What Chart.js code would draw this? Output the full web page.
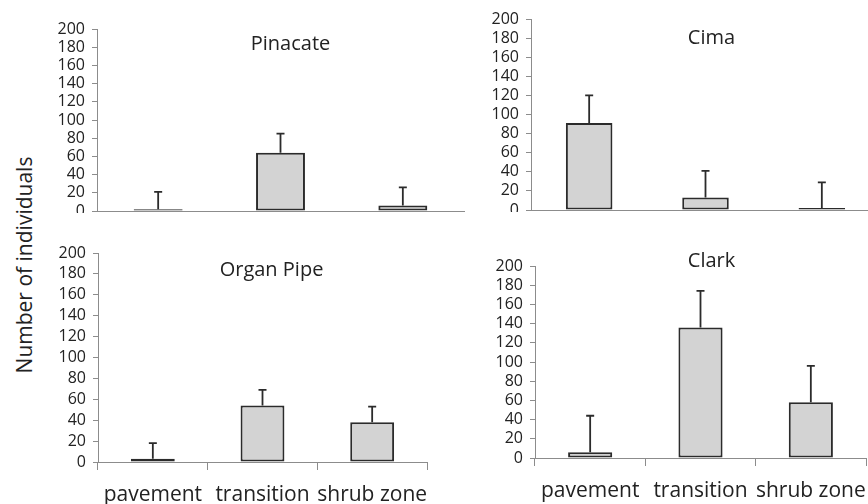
<!DOCTYPE html>
<html>
<head>
<meta charset="utf-8">
<script src="https://cdn.jsdelivr.net/npm/chart.js@4"></script>
<style>
  html, body { margin: 0; padding: 0; background: #fff; overflow: hidden; }
  #wrap { position: relative; width: 868px; height: 504px; overflow: hidden; }
  #wrap canvas { position: absolute; }
  #ytitle {
    position: absolute; left: 24px; top: 265px;
    transform: translate(-50%, -50%) rotate(-90deg);
    font: 21px "Open Sans"; color: #222; white-space: nowrap;
  }
</style>
</head>
<body>
<div id="wrap">
  <canvas id="c-pinacate"></canvas>
  <canvas id="c-cima"></canvas>
  <canvas id="c-organ"></canvas>
  <canvas id="c-clark"></canvas>
  <div id="ytitle">Number of individuals</div>
</div>
<script>
// Data (mean, upper error)
const categories = ['pavement', 'transition', 'shrub zone'];
const yMin = 0;
const yMax = 200;
const yStep = 20;

const pinacateMean = [2, 64, 6];
const pinacateErr = [19, 21, 20];

const cimaMean = [91, 13, 2];
const cimaErr = [29, 28, 27];

const organPipeMean = [3, 54, 38];
const organPipeErr = [15, 15, 15];

const clarkMean = [6, 136, 58];
const clarkErr = [38, 38, 38];

// Layout of the four panels (plot box in page pixels)
const Y_W = 52;      // room for y tick labels
const PAD_TOP = 14;
const PAD_R = 2;

const panels = [
  { id: 'c-pinacate', title: 'Pinacate', mean: pinacateMean, err: pinacateErr, labels: false,
    box: { left: 97, right: 464, top: 29, bottom: 211 }, titleAt: [10, 15] },
  { id: 'c-cima', title: 'Cima', mean: cimaMean, err: cimaErr, labels: false,
    box: { left: 531, right: 880, top: 19, bottom: 210 }, titleAt: [6, 19] },
  { id: 'c-organ', title: 'Organ Pipe', mean: organPipeMean, err: organPipeErr, labels: true,
    box: { left: 98, right: 427, top: 253, bottom: 462 }, titleAt: [9, 17] },
  { id: 'c-clark', title: 'Clark', mean: clarkMean, err: clarkErr, labels: true,
    box: { left: 535, right: 866, top: 266, bottom: 458 }, titleAt: [11, -5] }
];

const AXIS_GRAY = '#8c8c8c';
const INK = '#222';
const BAR_EDGE = '#2b2b2b';

const errorBarsPlugin = {
  id: 'errorBars',
  afterDatasetsDraw(chart, args, opts) {
    const { ctx } = chart;
    const y = chart.scales.y;
    const meta = chart.getDatasetMeta(0);
    const values = chart.data.datasets[0].data;
    ctx.save();
    ctx.strokeStyle = opts.color;
    ctx.lineWidth = opts.width;
    meta.data.forEach((bar, i) => {
      const base = y.getPixelForValue(values[i]);
      const top = y.getPixelForValue(values[i] + opts.errors[i]);
      ctx.beginPath();
      ctx.moveTo(bar.x, base);
      ctx.lineTo(bar.x, top);
      ctx.moveTo(bar.x - opts.cap, top);
      ctx.lineTo(bar.x + opts.cap, top);
      ctx.stroke();
    });
    ctx.restore();
  }
};

const panelTitlePlugin = {
  id: 'panelTitle',
  afterDraw(chart, args, opts) {
    const { ctx, chartArea } = chart;
    ctx.save();
    ctx.font = opts.font;
    ctx.fillStyle = opts.color;
    ctx.textAlign = 'center';
    ctx.textBaseline = 'middle';
    ctx.fillText(opts.text, (chartArea.left + chartArea.right) / 2 + opts.dx, chartArea.top + opts.dy);
    ctx.restore();
  }
};

function buildPanel(p) {
  const canvas = document.getElementById(p.id);
  const xH = p.labels ? 48 : 2;
  const w = Y_W + (p.box.right - p.box.left) + PAD_R;
  const h = PAD_TOP + (p.box.bottom - p.box.top) + xH;
  canvas.width = w;
  canvas.height = h;
  canvas.style.left = (p.box.left - Y_W) + 'px';
  canvas.style.top = (p.box.top - PAD_TOP) + 'px';
  canvas.style.width = w + 'px';
  canvas.style.height = h + 'px';

  return new Chart(canvas.getContext('2d'), {
    type: 'bar',
    data: {
      labels: categories,
      datasets: [{
        data: p.mean,
        backgroundColor: '#d3d3d3',
        borderColor: BAR_EDGE,
        borderWidth: 2,
        borderSkipped: false,
        barPercentage: 0.4,
        categoryPercentage: 1
      }]
    },
    options: {
      responsive: false,
      animation: false,
      events: [],
      layout: { padding: { top: PAD_TOP, right: PAD_R, left: 0, bottom: 0 } },
      plugins: {
        legend: { display: false },
        tooltip: { enabled: false },
        errorBars: { errors: p.err, color: BAR_EDGE, width: 1.8, cap: 4 },
        panelTitle: { text: p.title, dx: p.titleAt[0], dy: p.titleAt[1], font: '20px "Open Sans"', color: INK }
      },
      scales: {
        x: {
          offset: true,
          border: { display: true, color: AXIS_GRAY, width: 1 },
          grid: {
            display: p.labels,
            offset: true,
            drawOnChartArea: false,
            tickLength: 8,
            color: AXIS_GRAY
          },
          ticks: {
            display: p.labels,
            padding: 12,
            color: INK,
            maxRotation: 0,
            autoSkip: false,
            font: { family: 'Open Sans', size: 21 }
          },
          afterFit(scale) {
            scale.height = xH;
            scale.paddingLeft = 0;
            scale.paddingRight = 0;
          }
        },
        y: {
          min: yMin,
          max: yMax,
          border: { display: true, color: AXIS_GRAY, width: 1 },
          grid: {
            drawOnChartArea: false,
            tickLength: 5,
            color: AXIS_GRAY
          },
          ticks: {
            stepSize: yStep,
            autoSkip: false,
            padding: 7,
            color: INK,
            font: { family: 'Open Sans', size: 16, lineHeight: 1 }
          },
          afterFit(scale) {
            scale.width = Y_W;
            scale.paddingTop = 0;
            scale.paddingBottom = 0;
          }
        }
      }
    },
    plugins: [errorBarsPlugin, panelTitlePlugin]
  });
}

panels.forEach(buildPanel);
</script>
</body>
</html>
